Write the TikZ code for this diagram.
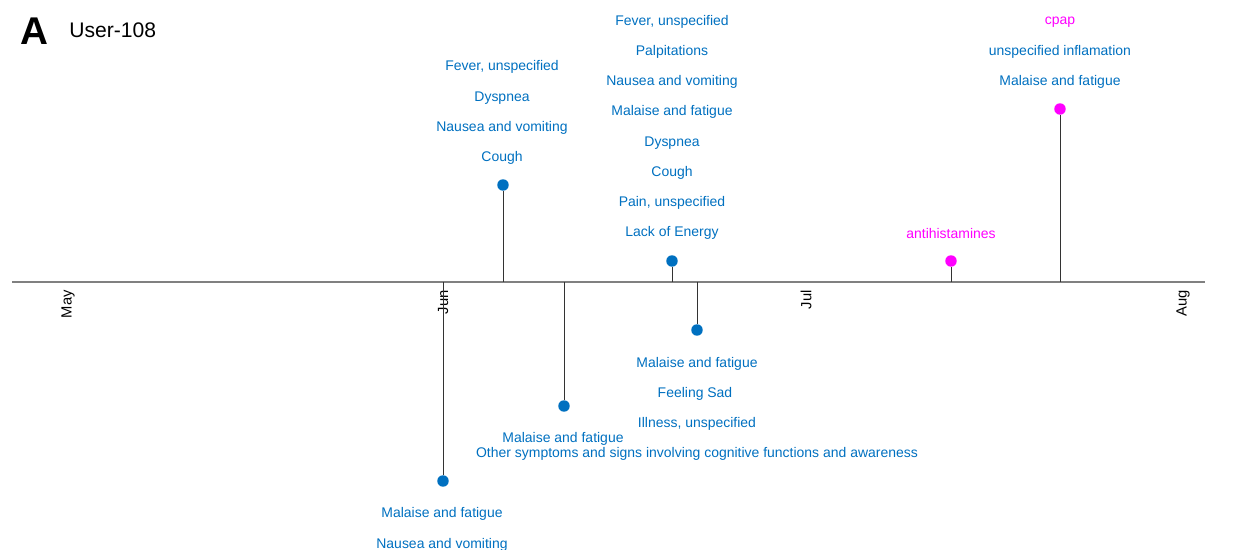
\documentclass[tikz,border=0pt]{standalone}
\usepackage{fontspec}
\setmainfont{Liberation Sans}
\definecolor{evblue}{HTML}{0070C0}
\definecolor{evpink}{HTML}{FF00FF}
\tikzset{
  dot/.style={circle,fill=#1,inner sep=0pt,minimum size=11.5pt*0.567},
  lbl/.style={text=#1,font=\fontsize{7.95}{9}\selectfont,inner sep=0pt,yshift=-1.2pt},
  month/.style={rotate=90,anchor=east,font=\fontsize{8.4}{9}\selectfont,inner sep=0pt},
  stem/.style={draw=black!80,line width=0.35pt}
}
\begin{document}
\begin{tikzpicture}[x=0.02cm,y=-0.02cm]
        \useasboundingbox (0,0) rectangle (1235,550);
        % title
        \node[font=\fontsize{22}{22}\selectfont\bfseries,inner sep=0pt] (big) at (34,31) {A};
        \node[font=\fontsize{12}{14}\selectfont,anchor=west,inner sep=0pt] (user) at (69,30) {User-108};
        % time axis
        \coordinate (left) at (12,282);
        \coordinate (right) at (1205,282);
        \draw[gray,line width=0.8pt] (left) -- (right);
        \node[month] (may) at (68,290) {May};
        \node[month] (jun) at (443,290) {Jun};
        \node[month] (jul) at (806,290) {Jul};
        \node[month] (aug) at (1183,290) {Aug};
        % events
        \coordinate (a1) at (443,282);
        \node[dot=evblue] (e1) at (443,481) {};
        \draw[stem] (a1) -- (e1);
        \node[lbl=evblue] (e1a) at (442,512) {Malaise and fatigue};
        \node[lbl=evblue] (e1b) at (442,543) {Nausea and vomiting};
        \coordinate (a2) at (503,282);
        \node[dot=evblue] (e2) at (503,185) {};
        \draw[stem] (a2) -- (e2);
        \node[lbl=evblue] (e2a) at (502,156) {Cough};
        \node[lbl=evblue] (e2b) at (502,126) {Nausea and vomiting};
        \node[lbl=evblue] (e2c) at (502,96) {Dyspnea};
        \node[lbl=evblue] (e2d) at (502,65) {Fever, unspecified};
        \coordinate (a3) at (564,282);
        \node[dot=evblue] (e3) at (564,406) {};
        \draw[stem] (a3) -- (e3);
        \node[lbl=evblue] (e3a) at (563,437) {Malaise and fatigue};
        \coordinate (a4) at (672,282);
        \node[dot=evblue] (e4) at (672,261) {};
        \draw[stem] (a4) -- (e4);
        \node[lbl=evblue] (e4a) at (672,231) {Lack of Energy};
        \node[lbl=evblue] (e4b) at (672,201) {Pain, unspecified};
        \node[lbl=evblue] (e4c) at (672,171) {Cough};
        \node[lbl=evblue] (e4d) at (672,141) {Dyspnea};
        \node[lbl=evblue] (e4e) at (672,110) {Malaise and fatigue};
        \node[lbl=evblue] (e4f) at (672,80) {Nausea and vomiting};
        \node[lbl=evblue] (e4g) at (672,50) {Palpitations};
        \node[lbl=evblue] (e4h) at (672,20) {Fever, unspecified};
        \coordinate (a5) at (697,282);
        \node[dot=evblue] (e5) at (697,330) {};
        \draw[stem] (a5) -- (e5);
        \node[lbl=evblue] (e5a) at (697,362) {Malaise and fatigue};
        \node[lbl=evblue] (e5b) at (695,392) {Feeling Sad};
        \node[lbl=evblue] (e5c) at (697,422) {Illness, unspecified};
        \node[lbl=evblue] (e5d) at (697,452) {Other symptoms and signs involving cognitive functions and awareness};
        \coordinate (a6) at (951,282);
        \node[dot=evpink] (e6) at (951,261) {};
        \draw[stem] (a6) -- (e6);
        \node[lbl=evpink] (e6a) at (951,231) {antihistamines};
        \coordinate (a7) at (1060,282);
        \node[dot=evpink] (e7) at (1060,109) {};
        \draw[stem] (a7) -- (e7);
        \node[lbl=evblue] (e7a) at (1060,80) {Malaise and fatigue};
        \node[lbl=evblue] (e7b) at (1060,50) {unspecified inflamation};
        \node[lbl=evpink] (e7c) at (1060,20) {cpap};
\end{tikzpicture}
\end{document}
